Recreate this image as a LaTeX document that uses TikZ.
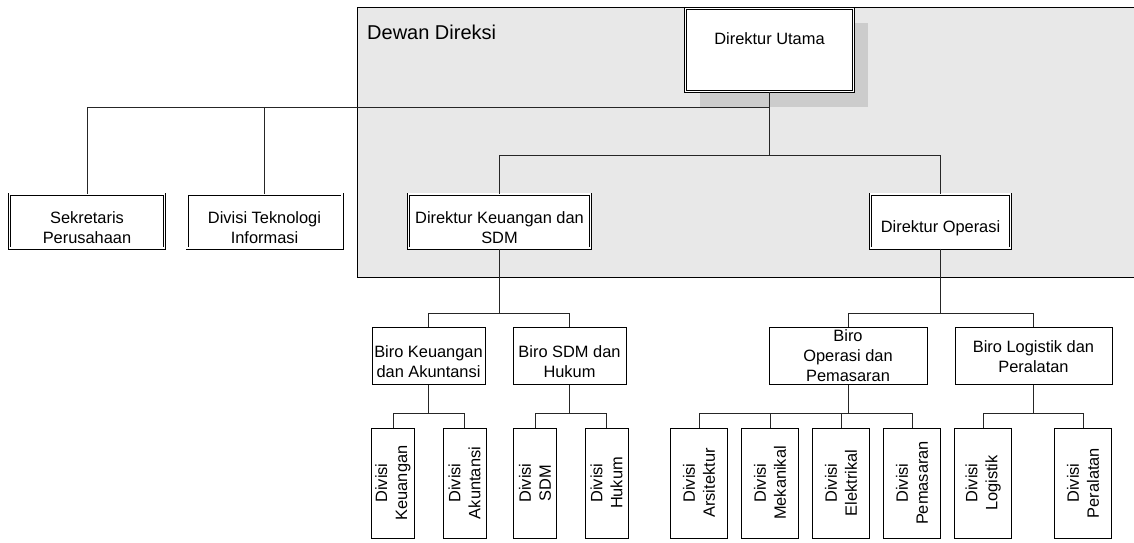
\documentclass[tikz,border=0pt]{standalone}
\usepackage{fontspec}
\setmainfont{Liberation Sans}
\definecolor{bggray}{RGB}{232,232,232}
\definecolor{shgray}{RGB}{204,204,204}
\pgfdeclarelayer{bg}
\pgfsetlayers{bg,main}
\begin{document}
\begin{tikzpicture}[x=1pt,y=-1pt,
  every node/.style={font=\fontsize{16.4}{20}\selectfont},
  box/.style={draw=black, line width=0.8pt, fill=white, inner sep=0pt},
  dbox/.style={draw=black, fill=white, inner sep=0pt, line width=0.7pt, double=white, double distance=1.6pt},
  kid/.style={box, minimum height=110pt},
  kidL/.style={kid, minimum width=43pt},
  kidR/.style={kid, minimum width=57pt},
  txt/.style={align=center, inner sep=0pt},
  vtxt/.style={align=center, inner sep=0pt, rotate=90},
  conn/.style={draw=black!85, line width=0.9pt}]
\useasboundingbox (0,0) rectangle (1134,542);
\clip (0,0) rectangle (1134,542);
% Dewan Direksi title
\node[anchor=base west, inner sep=0pt, font=\fontsize{20}{24}\selectfont] (ddtitle) at (367,39) {Dewan Direksi};
% Direktur Utama
\node[dbox, minimum width=168pt, minimum height=83pt] (du) at (769.5,50) {};
\node[txt] (du-t) at (769.5,39) {Direktur Utama};
\begin{pgfonlayer}{bg}
  \fill[bggray, draw=black, line width=0.9pt] (357.5,7.5) rectangle (1150,277.5);
  \fill[shgray] ([shift={(14.5,15)}]du.south west) rectangle ([shift={(14.5,15)}]du.north east);
\end{pgfonlayer}
% second row (double boxes)
\node[dbox, minimum width=155pt, minimum height=54pt] (sek) at (87,221.25) {};
\node[dbox, minimum width=155pt, minimum height=54pt] (dti) at (264.5,221.25) {};
\node[dbox, minimum width=182pt, minimum height=54pt] (dk) at (499.5,221.25) {};
\node[dbox, minimum width=140pt, minimum height=54pt] (dop) at (940.5,221.25) {};
\node[txt] (sek-t) at ([shift={(0,6)}]sek.center) {Sekretaris\\Perusahaan};
\node[txt] (dti-t) at ([shift={(0,6)}]dti.center) {Divisi Teknologi\\Informasi};
\node[txt] (dk-t) at ([shift={(0,6)}]dk.center) {Direktur Keuangan dan\\SDM};
\node[txt] (dop-t) at ([shift={(0,7)}]dop.center) {Direktur Operasi};
% biro row
\node[box, minimum width=113pt, minimum height=56.5pt] (bk) at (428.5,356) {};
\node[box, minimum width=113pt, minimum height=56.5pt] (bs) at (569.5,356) {};
\node[box, minimum width=158pt, minimum height=56.5pt] (bo) at (848,356) {};
\node[box, minimum width=157pt, minimum height=56.5pt] (bl) at (1033.5,356) {};
\node[txt] (bk-t) at ([shift={(0,5.5)}]bk.center) {Biro Keuangan\\dan Akuntansi};
\node[txt] (bs-t) at ([shift={(0,5.5)}]bs.center) {Biro SDM dan\\Hukum};
\node[txt] (bo-t) at (bo.center) {Biro\\Operasi dan\\Pemasaran};
\node[txt] (bl-t) at ([shift={(0,0.7)}]bl.center) {Biro Logistik dan\\Peralatan};
% divisions
\node[kidL] (dkeu) at (393,483) {};
\node[kidL] (daku) at (464.5,483) {};
\node[kidL] (dsdm) at (535,483) {};
\node[kidL] (dhuk) at (606.5,483) {};
\node[kidR] (dars) at (699,483) {};
\node[kidR] (dmek) at (770,483) {};
\node[kidR] (dele) at (841,483) {};
\node[kidR] (dpem) at (912,483) {};
\node[kidR] (dlog) at (983,483) {};
\node[kidR] (dper) at (1083,483) {};
\node[vtxt] (dkeu-t) at (dkeu.center) {Divisi\\Keuangan};
\node[vtxt] (daku-t) at (daku.center) {Divisi\\Akuntansi};
\node[vtxt] (dsdm-t) at (dsdm.center) {Divisi\\SDM};
\node[vtxt] (dhuk-t) at (dhuk.center) {Divisi\\Hukum};
\node[vtxt] (dars-t) at (dars.center) {Divisi\\Arsitektur};
\node[vtxt] (dmek-t) at (dmek.center) {Divisi\\Mekanikal};
\node[vtxt] (dele-t) at (dele.center) {Divisi\\Elektrikal};
\node[vtxt] (dpem-t) at (dpem.center) {Divisi\\Pemasaran};
\node[vtxt] (dlog-t) at (dlog.center) {Divisi\\Logistik};
\node[vtxt] (dper-t) at (dper.center) {Divisi\\Peralatan};
% junctions
\coordinate (j0) at (du.south |- 0,107);
\coordinate (j1) at (du.south |- 0,155);
\coordinate (j2) at (dk.south |- 0,313);
\coordinate (j3) at (dop.south |- 0,313);
\coordinate (j4) at (bk.south |- 0,413);
\coordinate (j5) at (bs.south |- 0,413);
\coordinate (j6) at (bo.south |- 0,413);
\coordinate (j7) at (bl.south |- 0,413);
% connectors
\draw[conn] (du.south) -- (j1);
\draw[conn] (sek.north) |- (j0);
\draw[conn] (dti.north) |- (j0);
\draw[conn] (j1) -| (dk.north);
\draw[conn] (j1) -| (dop.north);
\draw[conn] (dk.south) -- (j2);
\draw[conn] (j2) -| (bk.north);
\draw[conn] (j2) -| (bs.north);
\draw[conn] (dop.south) -- (j3);
\draw[conn] (j3) -| (bo.north);
\draw[conn] (j3) -| (bl.north);
\draw[conn] (bk.south) -- (j4);
\draw[conn] (j4) -| (dkeu.north);
\draw[conn] (j4) -| (daku.north);
\draw[conn] (bs.south) -- (j5);
\draw[conn] (j5) -| (dsdm.north);
\draw[conn] (j5) -| (dhuk.north);
\draw[conn] (bo.south) -- (j6);
\draw[conn] (j6) -| (dars.north);
\draw[conn] (j6) -| (dmek.north);
\draw[conn] (j6) -| (dele.north);
\draw[conn] (j6) -| (dpem.north);
\draw[conn] (bl.south) -- (j7);
\draw[conn] (j7) -| (dlog.north);
\draw[conn] (j7) -| (dper.north);
\end{tikzpicture}
\end{document}
